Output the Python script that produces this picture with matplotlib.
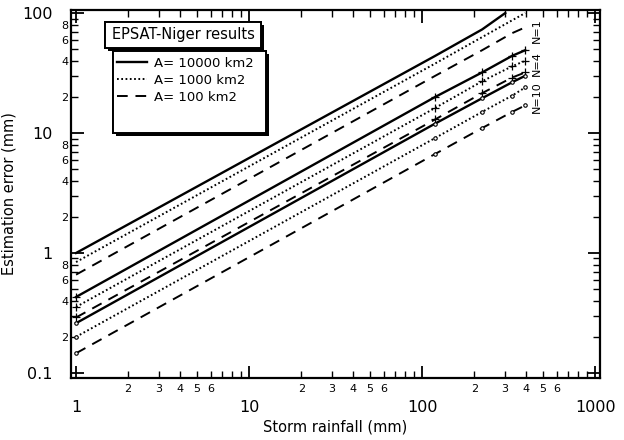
import numpy as np
import matplotlib
matplotlib.use("Agg")
import matplotlib.pyplot as plt
from matplotlib.patches import Rectangle
from matplotlib.ticker import LogLocator, FuncFormatter
import matplotlib.patheffects as pe

# ---------------------------------------------------------------------------
# data (storm rainfall mm -> estimation error mm)
# ---------------------------------------------------------------------------
rain = [1, 119, 222, 331, 394]
rain_n1_solid = [1, 119, 222, 302]

err_n1_a10000 = [1.0, 44, 73, 100]
err_n1_a1000 = [0.84, 38, 63, 87, 100]
err_n1_a100 = [0.66, 30, 49, 68, 76]

err_n4_a10000 = [0.43, 20, 32, 44, 49]
err_n4_a1000 = [0.355, 16.2, 27, 36, 40]
err_n4_a100 = [0.29, 13, 21.5, 29, 32]

err_n10_a10000 = [0.26, 12, 19.5, 26.5, 30]
err_n10_a1000 = [0.20, 9.1, 15, 20.5, 24]
err_n10_a100 = [0.146, 6.7, 11, 15, 17]

legend_labels = ["A= 10000 km2", "A= 1000 km2", "A= 100 km2"]
n_labels = [("N=1", 71), ("N=4", 37.6), ("N=10", 20)]

W, H = 624, 440
fig = plt.figure(figsize=(W / 100, H / 100), dpi=100)
ax = fig.add_axes([71 / W, 1 - 378 / H, (600 - 71) / W, (378 - 10) / H])

SOLID = dict(color="black", lw=1.7, ls="-")
DOT = dict(color="black", lw=1.4, ls=(0, (0.9, 1.3)))
DASH = dict(color="black", lw=1.4, ls=(0, (5.5, 4)))

# N = 1 (no markers)
ax.plot(rain_n1_solid, err_n1_a10000, **SOLID)
ax.plot(rain, err_n1_a1000, **DOT)
ax.plot(rain, err_n1_a100, **DASH)
# N = 4 ('+' markers)
mk4 = dict(marker="+", ms=6, mew=0.9)
ax.plot(rain, err_n4_a10000, **SOLID, **mk4)
ax.plot(rain, err_n4_a1000, **DOT, **mk4)
ax.plot(rain, err_n4_a100, **DASH, **mk4)
# N = 10 (small open circles)
mk10 = dict(marker="o", ms=2.5, mew=0.8, mfc="white")
ax.plot(rain, err_n10_a10000, **SOLID, **mk10)
ax.plot(rain, err_n10_a1000, **DOT, **mk10)
ax.plot(rain, err_n10_a100, **DASH, **mk10)

ax.set_xscale("log")
ax.set_yscale("log")
ax.set_xlim(0.935, 1065)
ax.set_ylim(0.0908, 106)

for axis in (ax.xaxis, ax.yaxis):
    axis.set_major_locator(LogLocator(base=10, numticks=12))
    axis.set_minor_locator(LogLocator(base=10, subs=np.arange(2, 10), numticks=12))


def major_fmt(v, pos):
    return "%g" % v


def minor_x_fmt(v, pos):
    d = int(round(v / 10 ** np.floor(np.log10(v) + 1e-9)))
    return str(d) if d in (2, 3, 4, 5, 6) else ""


def minor_y_fmt(v, pos):
    d = int(round(v / 10 ** np.floor(np.log10(v) + 1e-9)))
    return str(d) if d in (2, 4, 6, 8) else ""


ax.xaxis.set_major_formatter(FuncFormatter(major_fmt))
ax.yaxis.set_major_formatter(FuncFormatter(major_fmt))
ax.xaxis.set_minor_formatter(FuncFormatter(minor_x_fmt))
ax.yaxis.set_minor_formatter(FuncFormatter(minor_y_fmt))

ax.tick_params(which="both", direction="in", top=True, right=True)
ax.tick_params(which="major", length=9, width=1.3, labelsize=11.5)
ax.tick_params(which="minor", length=5, width=1.0, labelsize=8)
ax.tick_params(axis="x", which="major", pad=16)
ax.tick_params(axis="x", which="minor", pad=4)
ax.tick_params(axis="y", which="major", pad=13)
ax.tick_params(axis="y", which="minor", pad=2)
for sp in ax.spines.values():
    sp.set_linewidth(1.6)

ax.set_xlabel("Storm rainfall (mm)", fontsize=10.5, labelpad=3)
ax.set_ylabel("Estimation error (mm)", fontsize=10.5, labelpad=4)

for txt, yv in n_labels:
    ax.text(462, yv, txt, rotation=90, ha="center", va="center", fontsize=8)

# boxes with black drop shadow, like the original figure
shadow = [pe.withSimplePatchShadow(offset=(2, -2), shadow_rgbFace="black", alpha=1.0),
          pe.Normal()]
title_box = Rectangle((105 / W, 1 - 48 / H), (261 - 105) / W, 26 / H,
                      transform=fig.transFigure, facecolor="white",
                      edgecolor="black", lw=1.4, zorder=5)
title_box.set_path_effects(shadow)
fig.add_artist(title_box)
fig.text(183 / W, 1 - 35 / H, "EPSAT-Niger results", ha="center", va="center",
         fontsize=10.5, zorder=6)

leg_box = Rectangle((113 / W, 1 - 133 / H), (266 - 113) / W, 82 / H,
                    transform=fig.transFigure, facecolor="white",
                    edgecolor="black", lw=1.4, zorder=5)
leg_box.set_path_effects(shadow)
fig.add_artist(leg_box)

handles = [plt.Line2D([], [], **SOLID), plt.Line2D([], [], **DOT),
           plt.Line2D([], [], **DASH)]
leg = fig.legend(handles, legend_labels, loc="upper left",
                 bbox_to_anchor=(117 / W, 1 - 57 / H), frameon=False,
                 fontsize=9.5, handlelength=2.3, handletextpad=0.5,
                 labelspacing=0.3, borderpad=0, borderaxespad=0)
leg.set_zorder(7)

fig.savefig("out.png", dpi=100)
